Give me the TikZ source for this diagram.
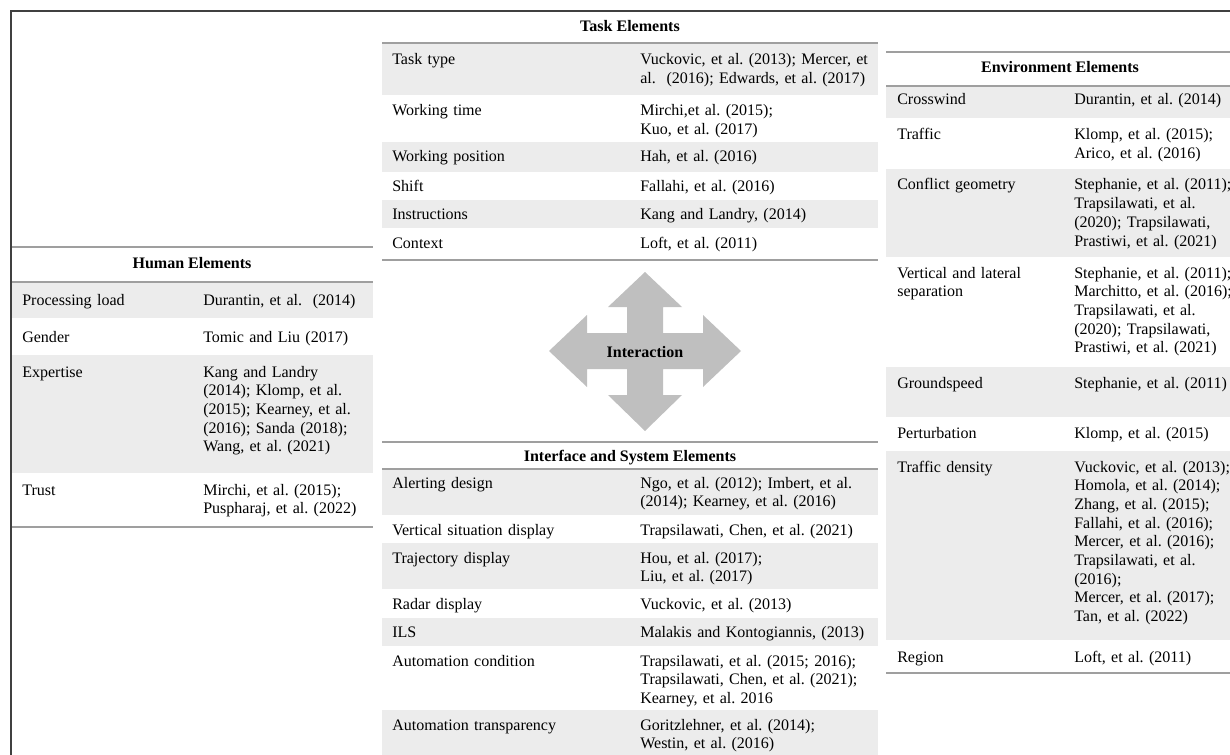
\documentclass[tikz,border=0pt]{standalone}
\usepackage{fontspec}
\setmainfont{Liberation Serif}
\usepackage{xcolor}
\usepackage{tikz}
\frenchspacing

\tikzset{
  cella/.style={anchor=base west, inner sep=0pt, text width=7.5cm, align=left, font=\fontsize{11.4}{13.3}\selectfont},
  titolo/.style={anchor=base, inner sep=0pt, font=\fontsize{11.4}{13.3}\selectfont\bfseries},
  riga/.style={fill=gray!15},
  filetto/.style={draw=gray!75, line width=1.2pt},
}

\begin{document}
\begin{tikzpicture}[x=0.025cm,y=-0.025cm]
\useasboundingbox (0,0) rectangle (1230,755);

% Cornice
\draw[black!75, line width=1.2pt] (11,755) -- (11,11) -- (1230,11);

% Righe grigie
\fill[riga] (12,282) rectangle (373,318);
\fill[riga] (12,355) rectangle (373,473);
\fill[riga] (382,43) rectangle (878,95);
\fill[riga] (382,142) rectangle (878,172);
\fill[riga] (382,200) rectangle (878,228);
\fill[riga] (382,469) rectangle (878,515);
\fill[riga] (382,543) rectangle (878,589);
\fill[riga] (382,618) rectangle (878,646);
\fill[riga] (382,710) rectangle (878,755);
\fill[riga] (886,86) rectangle (1230,118);
\fill[riga] (886,169) rectangle (1230,257);
\fill[riga] (886,367) rectangle (1230,417);
\fill[riga] (886,451) rectangle (1230,640);

% Filetti
\draw[filetto] (12,247) -- (373,247);
\draw[filetto] (12,282) -- (373,282);
\draw[filetto] (12,527) -- (373,527);
\draw[filetto] (382,43) -- (878,43);
\draw[filetto] (382,260) -- (878,260);
\draw[filetto] (382,442) -- (878,442);
\draw[filetto] (382,469) -- (878,469);
\draw[filetto] (886,52) -- (1230,52);
\draw[filetto] (886,86) -- (1230,86);
\draw[filetto] (886,673) -- (1230,673);

% Human Elements
\node[titolo] (hh) at (192,269) {Human Elements};
\node[cella] (h1) at (22,305) {Processing load};
\node[cella] (h1r) at (203,305) {Durantin, et al.\ \ (2014)};
\node[cella] (h2) at (22,342) {Gender};
\node[cella] (h2r) at (203,342) {Tomic and Liu (2017)};
\node[cella] (h3) at (22,377) {Expertise};
\node[cella] (h3r) at (203,377) {Kang and Landry\\(2014); Klomp, et al.\\(2015); Kearney, et al.\\(2016); Sanda (2018);\\Wang, et al. (2021)};
\node[cella] (h4) at (22,495) {Trust};
\node[cella] (h4r) at (203,495) {Mirchi, et al. (2015);\\Puspharaj, et al. (2022)};

% Task Elements
\node[titolo] (th) at (630,32) {Task Elements};
\node[cella] (t1) at (392,65) {Task type};
\node[cella] (t1r) at (640,65) {Vuckovic, et al. (2013); Mercer, et\\al.\ \ (2016); Edwards, et al. (2017)};
\node[cella] (t2) at (392,116) {Working time};
\node[cella] (t2r) at (640,116) {Mirchi,et al. (2015);\\Kuo, et al. (2017)};
\node[cella] (t3) at (392,162) {Working position};
\node[cella] (t3r) at (640,162) {Hah, et al. (2016)};
\node[cella] (t4) at (392,192) {Shift};
\node[cella] (t4r) at (640,192) {Fallahi, et al. (2016)};
\node[cella] (t5) at (392,220) {Instructions};
\node[cella] (t5r) at (640,220) {Kang and Landry, (2014)};
\node[cella] (t6) at (392,248) {Context};
\node[cella] (t6r) at (640,248) {Loft, et al. (2011)};

% Freccia a quattro punte
\fill[gray!50] (645,272) -- (682,307) -- (663,307) -- (663,333) -- (703,333) -- (703,315)
  -- (741,351) -- (703,387) -- (703,369) -- (663,369) -- (663,395) -- (682,395)
  -- (645,431) -- (608,395) -- (627,395) -- (627,369) -- (587,369) -- (587,387)
  -- (549,351) -- (587,315) -- (587,333) -- (627,333) -- (627,307) -- (608,307) -- cycle;
\node[font=\fontsize{11.4}{13.3}\selectfont\bfseries, inner sep=0pt] (inter) at (645,352) {Interaction};

% Interface and System Elements
\node[titolo] (ih) at (630,461) {Interface and System Elements};
\node[cella] (i1) at (392,488) {Alerting design};
\node[cella] (i1r) at (640,488) {Ngo, et al. (2012); Imbert, et al.\\(2014); Kearney, et al. (2016)};
\node[cella] (i2) at (392,535) {Vertical situation display};
\node[cella] (i2r) at (640,535) {Trapsilawati, Chen, et al. (2021)};
\node[cella] (i3) at (392,563) {Trajectory display};
\node[cella] (i3r) at (640,563) {Hou, et al. (2017);\\Liu, et al. (2017)};
\node[cella] (i4) at (392,609) {Radar display};
\node[cella] (i4r) at (640,609) {Vuckovic, et al. (2013)};
\node[cella] (i5) at (392,637) {ILS};
\node[cella] (i5r) at (640,637) {Malakis and Kontogiannis, (2013)};
\node[cella] (i6) at (392,666) {Automation condition};
\node[cella] (i6r) at (640,666) {Trapsilawati, et al. (2015; 2016);\\Trapsilawati, Chen, et al. (2021);\\Kearney, et al. 2016};
\node[cella] (i7) at (392,730) {Automation transparency};
\node[cella] (i7r) at (640,730) {Goritzlehner, et al. (2014);\\Westin, et al. (2016)};

% Environment Elements
\node[titolo] (eh) at (1060,73) {Environment Elements};
\node[cella] (e1) at (897,105) {Crosswind};
\node[cella] (e1r) at (1074,105) {Durantin, et al. (2014)};
\node[cella] (e2) at (897,140) {Traffic};
\node[cella] (e2r) at (1074,140) {Klomp, et al. (2015);\\Arico, et al. (2016)};
\node[cella] (e3) at (897,190) {Conflict geometry};
\node[cella] (e3r) at (1074,190) {Stephanie, et al. (2011);\\Trapsilawati, et al.\\(2020); Trapsilawati,\\Prastiwi, et al. (2021)};
\node[cella] (e4) at (897,278) {Vertical and lateral\\separation};
\node[cella] (e4r) at (1074,278) {Stephanie, et al. (2011);\\Marchitto, et al. (2016);\\Trapsilawati, et al.\\(2020); Trapsilawati,\\Prastiwi, et al. (2021)};
\node[cella] (e5) at (897,388) {Groundspeed};
\node[cella] (e5r) at (1074,388) {Stephanie, et al. (2011)};
\node[cella] (e6) at (897,438) {Perturbation};
\node[cella] (e6r) at (1074,438) {Klomp, et al. (2015)};
\node[cella] (e7) at (897,472) {Traffic density};
\node[cella] (e7r) at (1074,472) {Vuckovic, et al. (2013);\\Homola, et al. (2014);\\Zhang, et al. (2015);\\Fallahi, et al. (2016);\\Mercer, et al. (2016);\\Trapsilawati, et al.\\(2016);\\Mercer, et al. (2017);\\Tan, et al. (2022)};
\node[cella] (e8) at (897,662) {Region};
\node[cella] (e8r) at (1074,662) {Loft, et al. (2011)};

\end{tikzpicture}
\end{document}
